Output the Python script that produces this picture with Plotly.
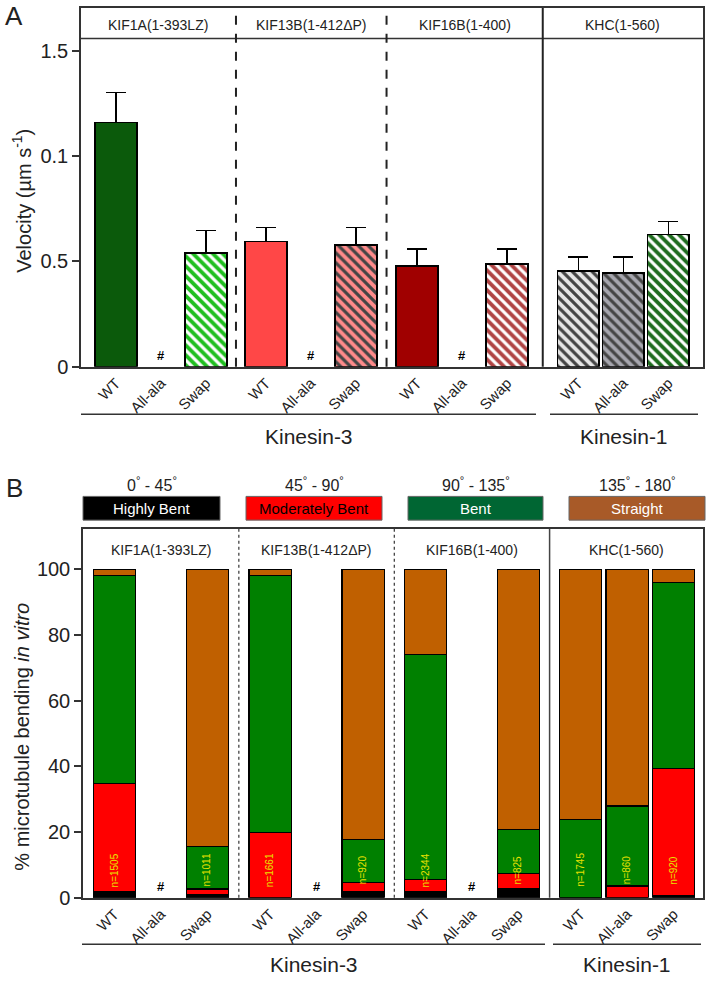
import plotly.graph_objects as go

W, H = 708, 986
FONT = "Liberation Sans, Arial, sans-serif"

# ---------------- data ----------------
constructs = ["KIF1A(1-393LZ)", "KIF13B(1-412\u0394P)", "KIF16B(1-400)", "KHC(1-560)"]
variants = ["WT", "All-ala", "Swap"]

# Panel A: velocity (µm/s); None = no motility (#)
vel_mean = [1.158, None, 0.539,
            0.595, None, 0.577,
            0.478, None, 0.487,
            0.455, 0.445, 0.628]
vel_err = [0.142, 0, 0.108,
           0.066, 0, 0.084,
           0.080, 0, 0.071,
           0.065, 0.075, 0.061]
velA_colors = ["#0b5a0b", "#ffffff", "#1fbf1f",
               "#ff4747", "#ffffff", "#ff8a8a",
               "#a00000", "#ffffff", "#b04444",
               "#e6e6e6", "#a6a6ae", "#1e6b1e"]
velA_hatch = ["", "", "\\", "", "", "\\", "", "", "\\", "\\", "\\", "\\"]

# Panel B: % microtubule bending (segments: highly bent, moderately bent, bent, straight)
bend_highly = [1.8, None, 0.9, 0.0, None, 1.8, 1.8, None, 2.7, 0.0, 0.0, 0.8]
bend_moder = [33.0, None, 1.8, 19.9, None, 3.0, 3.9, None, 4.8, 0.0, 3.6, 38.7]
bend_bent = [63.4, None, 13.0, 78.3, None, 12.9, 68.4, None, 13.3, 23.8, 24.4, 56.6]
bend_straight = [1.8, None, 84.3, 1.8, None, 82.3, 25.9, None, 79.2, 76.2, 72.0, 3.9]
n_counts = ["n=1505", None, "n=1011", "n=1661", None, "n=920",
            "n=2344", None, "n=825", "n=1745", "n=860", "n=920"]

bend_classes = ["Highly Bent", "Moderately Bent", "Bent", "Straight"]
bend_ranges = ["0<sup>°</sup> - 45<sup>°</sup>", "45<sup>°</sup> - 90<sup>°</sup>",
               "90<sup>°</sup> - 135<sup>°</sup>", "135<sup>°</sup> - 180<sup>°</sup>"]
bend_colors = ["#000000", "#ff0000", "#008000", "#c06000"]
legend_colors = ["#000000", "#ff0000", "#006633", "#a85a28"]
legend_text_colors = ["white", "black", "white", "white"]

# ---------------- layout helpers ----------------
def px(x):
    return x / W


def py(y):
    return 1 - y / H


groupA = [0, 3.33, 6.69, 10.27]
groupB = [0, 3.35, 6.69, 10.03]
xA = [g + i for g in groupA for i in range(3)]
xB = [g + i for g in groupB for i in range(3)]
labels = variants * 4
dividersA = [(groupA[k] + 2 + groupA[k + 1]) / 2 for k in range(3)]
dividersB = [(groupB[k] + 2 + groupB[k + 1]) / 2 for k in range(3)]

fig = go.Figure()

# Panel A bars
fig.add_trace(go.Bar(
    x=xA, y=vel_mean, width=0.93, xaxis="x", yaxis="y",
    marker=dict(color=velA_colors, line=dict(color="black", width=1.6),
                pattern=dict(shape=velA_hatch, fillmode="overlay", fgcolor="#111111",
                             fgopacity=1, size=7, solidity=0.45)),
    error_y=dict(type="data", symmetric=False, array=vel_err,
                 arrayminus=[0] * 12, color="black", thickness=1.6, width=10),
    showlegend=False, hoverinfo="skip",
))

# Panel B stacked bars
for seg, col in zip([bend_highly, bend_moder, bend_bent, bend_straight], bend_colors):
    fig.add_trace(go.Bar(
        x=xB, y=seg, width=0.91, xaxis="x2", yaxis="y2",
        marker=dict(color=col, line=dict(color="black", width=1.2)),
        showlegend=False, hoverinfo="skip",
    ))

annotations = []
shapes = []


def ann(**kw):
    kw.setdefault("showarrow", False)
    kw.setdefault("xanchor", "center")
    kw.setdefault("yanchor", "middle")
    annotations.append(kw)


# "#" markers
for i, v in enumerate(vel_mean):
    if v is None:
        ann(x=xA[i], y=0.01, xref="x", yref="y", text="<b>#</b>", yanchor="bottom",
            font=dict(size=13, color="black", family="Liberation Sans"))
for i, v in enumerate(bend_bent):
    if v is None:
        ann(x=xB[i], y=0.5, xref="x2", yref="y2", text="<b>#</b>", yanchor="bottom",
            font=dict(size=13, color="black", family="Liberation Sans"))

# n labels
for i, t in enumerate(n_counts):
    if t:
        ann(x=xB[i], y=8.5, xref="x2", yref="y2", text=t, textangle=-90,
            font=dict(size=10, color="#e8e000", family=FONT))

# header texts
bnA = [-0.778] + dividersA + [13.04]
bnB = [-0.677] + dividersB + [12.66]
for k, name in enumerate(constructs):
    ann(x=(bnA[k] + bnA[k + 1]) / 2, y=py(25), xref="x", yref="paper", text=name,
        font=dict(size=14, color="#222", family=FONT))
    ann(x=(bnB[k] + bnB[k + 1]) / 2, y=py(556), xref="x2", yref="paper", text=name,
        font=dict(size=14, color="#222", family=FONT))

# header line panel A
shapes.append(dict(type="line", xref="x domain", yref="paper", x0=0, x1=1,
                   y0=py(39), y1=py(39), line=dict(color="#333", width=1.5)))

# dividers
for k, d in enumerate(dividersA):
    shapes.append(dict(type="line", xref="x", yref="y domain", x0=d, x1=d, y0=0, y1=1,
                       line=dict(color="#222", width=2, dash="solid" if k == 2 else "dash")))
for k, d in enumerate(dividersB):
    shapes.append(dict(type="line", xref="x2", yref="y2 domain", x0=d, x1=d, y0=0, y1=1,
                       line=dict(color="#444", width=1.5 if k == 2 else 1.3,
                                 dash="solid" if k == 2 else "dot")))

# Kinesin family lines & labels
for (x0, x1, yl, label, yt) in [(81, 536, 419, "Kinesin-3", 441), (550, 698, 419, "Kinesin-1", 441),
                                (82, 545, 955, "Kinesin-3", 975), (553, 701, 955, "Kinesin-1", 975)]:
    shapes.append(dict(type="line", xref="paper", yref="paper", x0=px(x0), x1=px(x1),
                       y0=py(yl), y1=py(yl), line=dict(color="#333", width=1.5)))
    ann(x=px((x0 + x1) / 2), y=py(yt), xref="paper", yref="paper", text=label,
        font=dict(size=21, color="#222", family=FONT))

# legend boxes for bending classes
legend_boxes = [(83, 220), (246, 382), (408, 543), (569, 705)]
for (x0, x1), cls, rng, fc, tc in zip(legend_boxes, bend_classes, bend_ranges,
                                      legend_colors, legend_text_colors):
    shapes.append(dict(type="rect", xref="paper", yref="paper", x0=px(x0), x1=px(x1),
                       y0=py(526), y1=py(502), fillcolor=fc,
                       line=dict(color="#666", width=1)))
    ann(x=px((x0 + x1) / 2), y=py(514), xref="paper", yref="paper", text=cls,
        font=dict(size=15, color=tc, family=FONT))
    ann(x=px((x0 + x1) / 2), y=py(489), xref="paper", yref="paper", text=rng,
        font=dict(size=16, color="#222", family=FONT))

# panel letters and y titles
ann(x=px(14), y=py(16), xref="paper", yref="paper", text="A",
    font=dict(size=26, color="#222", family=FONT))
ann(x=px(14), y=py(494), xref="paper", yref="paper", text="B",
    font=dict(size=26, color="#222", family=FONT))
ann(x=px(22), y=py(203), xref="paper", yref="paper",
    text="Velocity (µm s<sup>-1</sup>)", textangle=-90,
    font=dict(size=20, color="#222", family=FONT))
ann(x=px(22), y=py(745), xref="paper", yref="paper",
    text="% microtubule bending <i>in vitro</i>", textangle=-90,
    font=dict(size=20, color="#222", family=FONT))

axis_common = dict(showline=True, mirror=True, linecolor="#333", linewidth=1.5,
                   showgrid=False, zeroline=False, fixedrange=True)

fig.update_layout(
    width=W, height=H, margin=dict(l=0, r=0, t=0, b=0),
    paper_bgcolor="white", plot_bgcolor="white",
    barmode="stack", showlegend=False,
    font=dict(family=FONT, color="#222"),
    xaxis=dict(domain=[px(81), px(703)], range=[-0.778, 13.04], anchor="y",
               tickvals=xA, ticktext=labels, tickangle=-45, ticks="",
               tickfont=dict(size=15), **axis_common),
    yaxis=dict(domain=[py(371), py(8)], range=[0, 1.702], anchor="x",
               tickvals=[0, 0.5, 1.0, 1.5], ticktext=["0", "0.5", "0.1", "1.5"],
               ticks="outside", ticklen=7, tickwidth=1.5, tickcolor="#333",
               tickfont=dict(size=20), **axis_common),
    xaxis2=dict(domain=[px(83), px(703)], range=[-0.677, 12.66], anchor="y2",
                tickvals=xB, ticktext=labels, tickangle=-45, ticks="",
                tickfont=dict(size=15), **axis_common),
    yaxis2=dict(domain=[py(908), py(535)], range=[0, 112.3], anchor="x2",
                tickvals=[0, 20, 40, 60, 80, 100],
                ticks="outside", ticklen=7, tickwidth=1.5, tickcolor="#333",
                tickfont=dict(size=20), **axis_common),
    annotations=annotations, shapes=shapes,
)

fig.write_html("out.html", config={"displayModeBar": False},
               post_script="document.body.style.margin='0';document.body.style.overflow='hidden';")
